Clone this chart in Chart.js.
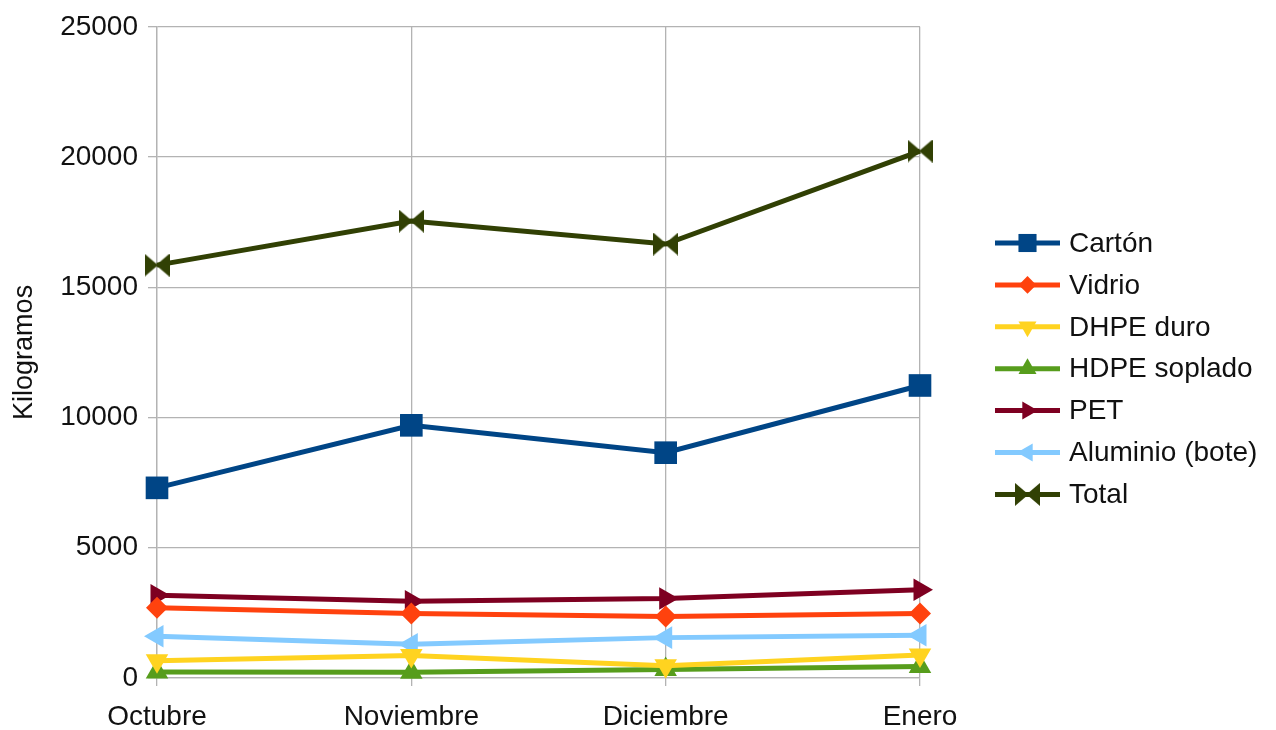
<!DOCTYPE html>
<html>
<head>
<meta charset="utf-8">
<script src="https://cdn.jsdelivr.net/npm/chart.js@4/dist/chart.umd.min.js"></script>
<style>
html,body{margin:0;padding:0;background:#fff;}
#wrap{width:1276px;height:730px;position:relative;}
</style>
</head>
<body>
<div id="wrap"><canvas id="c" width="1276" height="730"></canvas></div>
<script>
const categories = ["Octubre", "Noviembre", "Diciembre", "Enero"];
const carton = [7300, 9700, 8650, 11230];
const vidrio = [2700, 2480, 2360, 2480];
const dhpeDuro = [660, 860, 470, 880];
const hdpeSoplado = [230, 220, 330, 440];
const pet = [3180, 2950, 3050, 3390];
const aluminio = [1600, 1300, 1550, 1640];
const total = [15850, 17540, 16660, 20230];
const yTicks = [0, 5000, 10000, 15000, 20000, 25000];

const FONT = "'Liberation Sans', Arial, sans-serif";
const TEXT = "#111111";

function bowtie(color, w, h) {
  const c = document.createElement('canvas');
  c.width = w; c.height = h;
  const g = c.getContext('2d');
  g.fillStyle = color;
  g.beginPath(); g.moveTo(0, 0); g.lineTo(w / 2 + 1, h / 2); g.lineTo(0, h); g.closePath(); g.fill();
  g.beginPath(); g.moveTo(w, 0); g.lineTo(w / 2 - 1, h / 2); g.lineTo(w, h); g.closePath(); g.fill();
  return c;
}

const series = [
  {label: "Cartón", data: carton, color: "#004586", style: "rect", rot: 0, r: 16},
  {label: "Vidrio", data: vidrio, color: "#ff420e", style: "rectRot", rot: 0, r: 11},
  {label: "DHPE duro", data: dhpeDuro, color: "#ffd320", style: "triangle", rot: 180, r: 13},
  {label: "HDPE soplado", data: hdpeSoplado, color: "#579d1c", style: "triangle", rot: 0, r: 13},
  {label: "PET", data: pet, color: "#7e0021", style: "triangle", rot: 90, r: 13},
  {label: "Aluminio (bote)", data: aluminio, color: "#83caff", style: "triangle", rot: 270, r: 13},
  {label: "Total", data: total, color: "#314004", style: bowtie("#314004", 25, 23), rot: 0, r: 12}
];

const datasets = series.map(s => ({
  label: s.label,
  data: s.data,
  borderColor: s.color,
  backgroundColor: s.color,
  borderWidth: 5,
  tension: 0,
  pointStyle: s.style,
  pointRotation: s.rot,
  pointRadius: s.r,
  pointHoverRadius: s.r,
  pointBorderWidth: 0,
  pointBackgroundColor: s.color,
  pointBorderColor: s.color,
  clip: false
}));

const legendPlugin = {
  id: 'customLegend',
  afterDraw(chart) {
    const ctx = chart.ctx;
    const x0 = 995, x1 = 1060, tx = 1069;
    const yStart = 243, dy = 41.9;
    ctx.save();
    series.forEach((s, i) => {
      const y = yStart + i * dy;
      ctx.strokeStyle = s.color;
      ctx.lineWidth = 5;
      ctx.beginPath(); ctx.moveTo(x0, y); ctx.lineTo(x1, y); ctx.stroke();
      ctx.fillStyle = s.color;
      Chart.helpers.drawPoint(ctx, {
        pointStyle: s.style, rotation: s.rot, radius: s.r * 0.8, borderWidth: 0
      }, (x0 + x1) / 2, y);
      ctx.fillStyle = TEXT;
      ctx.font = "28px " + FONT;
      ctx.textBaseline = "middle";
      ctx.textAlign = "left";
      ctx.fillText(s.label, tx, y + 1);
    });
    ctx.restore();
  }
};

new Chart(document.getElementById('c'), {
  type: 'line',
  data: {labels: categories, datasets: datasets},
  plugins: [legendPlugin],
  options: {
    responsive: false,
    animation: false,
    devicePixelRatio: 1,
    layout: {padding: {left: 8, right: 356, top: 24, bottom: 3}},
    plugins: {legend: {display: false}, tooltip: {enabled: false}},
    scales: {
      x: {
        offset: false,
        grid: {color: "#b3b3b3", lineWidth: 1.3, tickLength: 8, drawTicks: true},
        border: {color: "#b3b3b3", width: 1.3},
        ticks: {color: TEXT, font: {family: FONT, size: 28}, padding: 14, maxRotation: 0},
        afterFit(s) { s.height = 730 - 678 - 3; }
      },
      y: {
        min: 0, max: 25000,
        afterBuildTicks(s) { s.ticks = yTicks.map(v => ({value: v})); },
        grid: {color: "#b3b3b3", lineWidth: 1.3, tickLength: 9},
        border: {color: "#b3b3b3", width: 1.3},
        ticks: {color: TEXT, font: {family: FONT, size: 28}, padding: 10, callback: v => String(v)},
        title: {display: true, text: "Kilogramos", color: TEXT, font: {family: FONT, size: 27}, padding: {top: 0, bottom: 2}},
        afterFit(s) { s.width = 157 - 8; }
      }
    }
  }
});
</script>
</body>
</html>
